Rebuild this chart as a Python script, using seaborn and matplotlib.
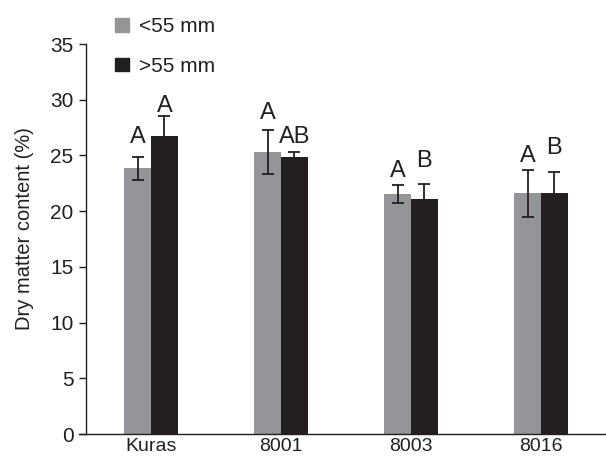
import matplotlib
matplotlib.use("Agg")
import matplotlib.pyplot as plt
import seaborn as sns
import pandas as pd
import numpy as np

# Cultivars and tuber size classes
cultivars = ["Kuras", "8001", "8003", "8016"]
size_classes = ["<55 mm", ">55 mm"]

# Mean dry matter content (%) and standard deviations
dm_small = [23.85, 25.3, 21.55, 21.6]
dm_large = [26.75, 24.9, 21.1, 21.6]
sd_small = [1.05, 1.95, 0.8, 2.1]
sd_large = [1.75, 0.45, 1.35, 1.95]

# Significance letters and their baseline heights above the bars
letters_small = ["A", "A", "A", "A"]
letters_large = ["A", "AB", "B", "B"]
letter_y_small = [26.1, 28.3, 23.1, 24.4]
letter_y_large = [28.9, 26.1, 24.0, 25.1]

yticks = [0, 5, 10, 15, 20, 25, 30, 35]

GRAY = "#939598"
DARK = "#231f20"

sns.set_style("ticks")
plt.rcParams["font.family"] = ["Liberation Sans", "DejaVu Sans"]

df = pd.DataFrame({
    "cultivar": cultivars * 2,
    "size": [size_classes[0]] * 4 + [size_classes[1]] * 4,
    "dm": dm_small + dm_large,
    "sd": sd_small + sd_large,
})

fig = plt.figure(figsize=(6.06, 4.61), dpi=100)
ax = fig.add_axes([79 / 606, 1 - 434 / 461, 1 - 79 / 606, (434 - 44) / 461])

sns.barplot(data=df, x="cultivar", y="dm", hue="size", order=cultivars,
            hue_order=size_classes, palette=[GRAY, DARK], width=0.41,
            errorbar=None, saturation=1, linewidth=0, ax=ax, legend=False)

# error bars and letters placed on the bar centres
bars = [p for p in ax.patches if p.get_width() > 0]
bars_small = sorted(bars[:4], key=lambda p: p.get_x())
bars_large = sorted(bars[4:], key=lambda p: p.get_x())
for group, means, sds, labs, ly in [
    (bars_small, dm_small, sd_small, letters_small, letter_y_small),
    (bars_large, dm_large, sd_large, letters_large, letter_y_large),
]:
    xs = [p.get_x() + p.get_width() / 2 for p in group]
    ax.errorbar(xs, means, yerr=sds, fmt="none", ecolor=DARK,
                elinewidth=1.3, capsize=4.2, capthick=1.3, zorder=3)
    for x, lab, y in zip(xs, labs, ly):
        ax.text(x, y, lab, ha="center", va="baseline", fontsize=17,
                color=DARK)

ax.set_xlim(-0.554, 3.5)
ax.set_ylim(0, 35)
ax.set_yticks(yticks)
ax.spines["left"].set_position(("data", -0.5))
for s in ["top", "right"]:
    ax.spines[s].set_visible(False)
for s in ["left", "bottom"]:
    ax.spines[s].set_color(DARK)
    ax.spines[s].set_linewidth(1.0)

ax.tick_params(axis="y", length=5, width=1.0, color=DARK, pad=4,
               labelsize=15, labelcolor=DARK)
ax.tick_params(axis="x", length=0, pad=3, labelsize=14, labelcolor=DARK)
ax.set_xlabel("")
ax.set_ylabel("Dry matter content (%)", fontsize=14.5, color=DARK)
ax.yaxis.set_label_coords(-0.085, 0.528)

handles = [plt.Rectangle((0, 0), 1, 1, color=c) for c in (GRAY, DARK)]
fig.legend(handles, size_classes, loc="upper left",
           bbox_to_anchor=(115 / 606, 1 - 17 / 461), frameon=False,
           fontsize=15, handlelength=0.65, handleheight=0.65,
           handletextpad=0.5, labelspacing=1.0, borderpad=0,
           borderaxespad=0, labelcolor=DARK)

fig.savefig("out.png", dpi=100)
